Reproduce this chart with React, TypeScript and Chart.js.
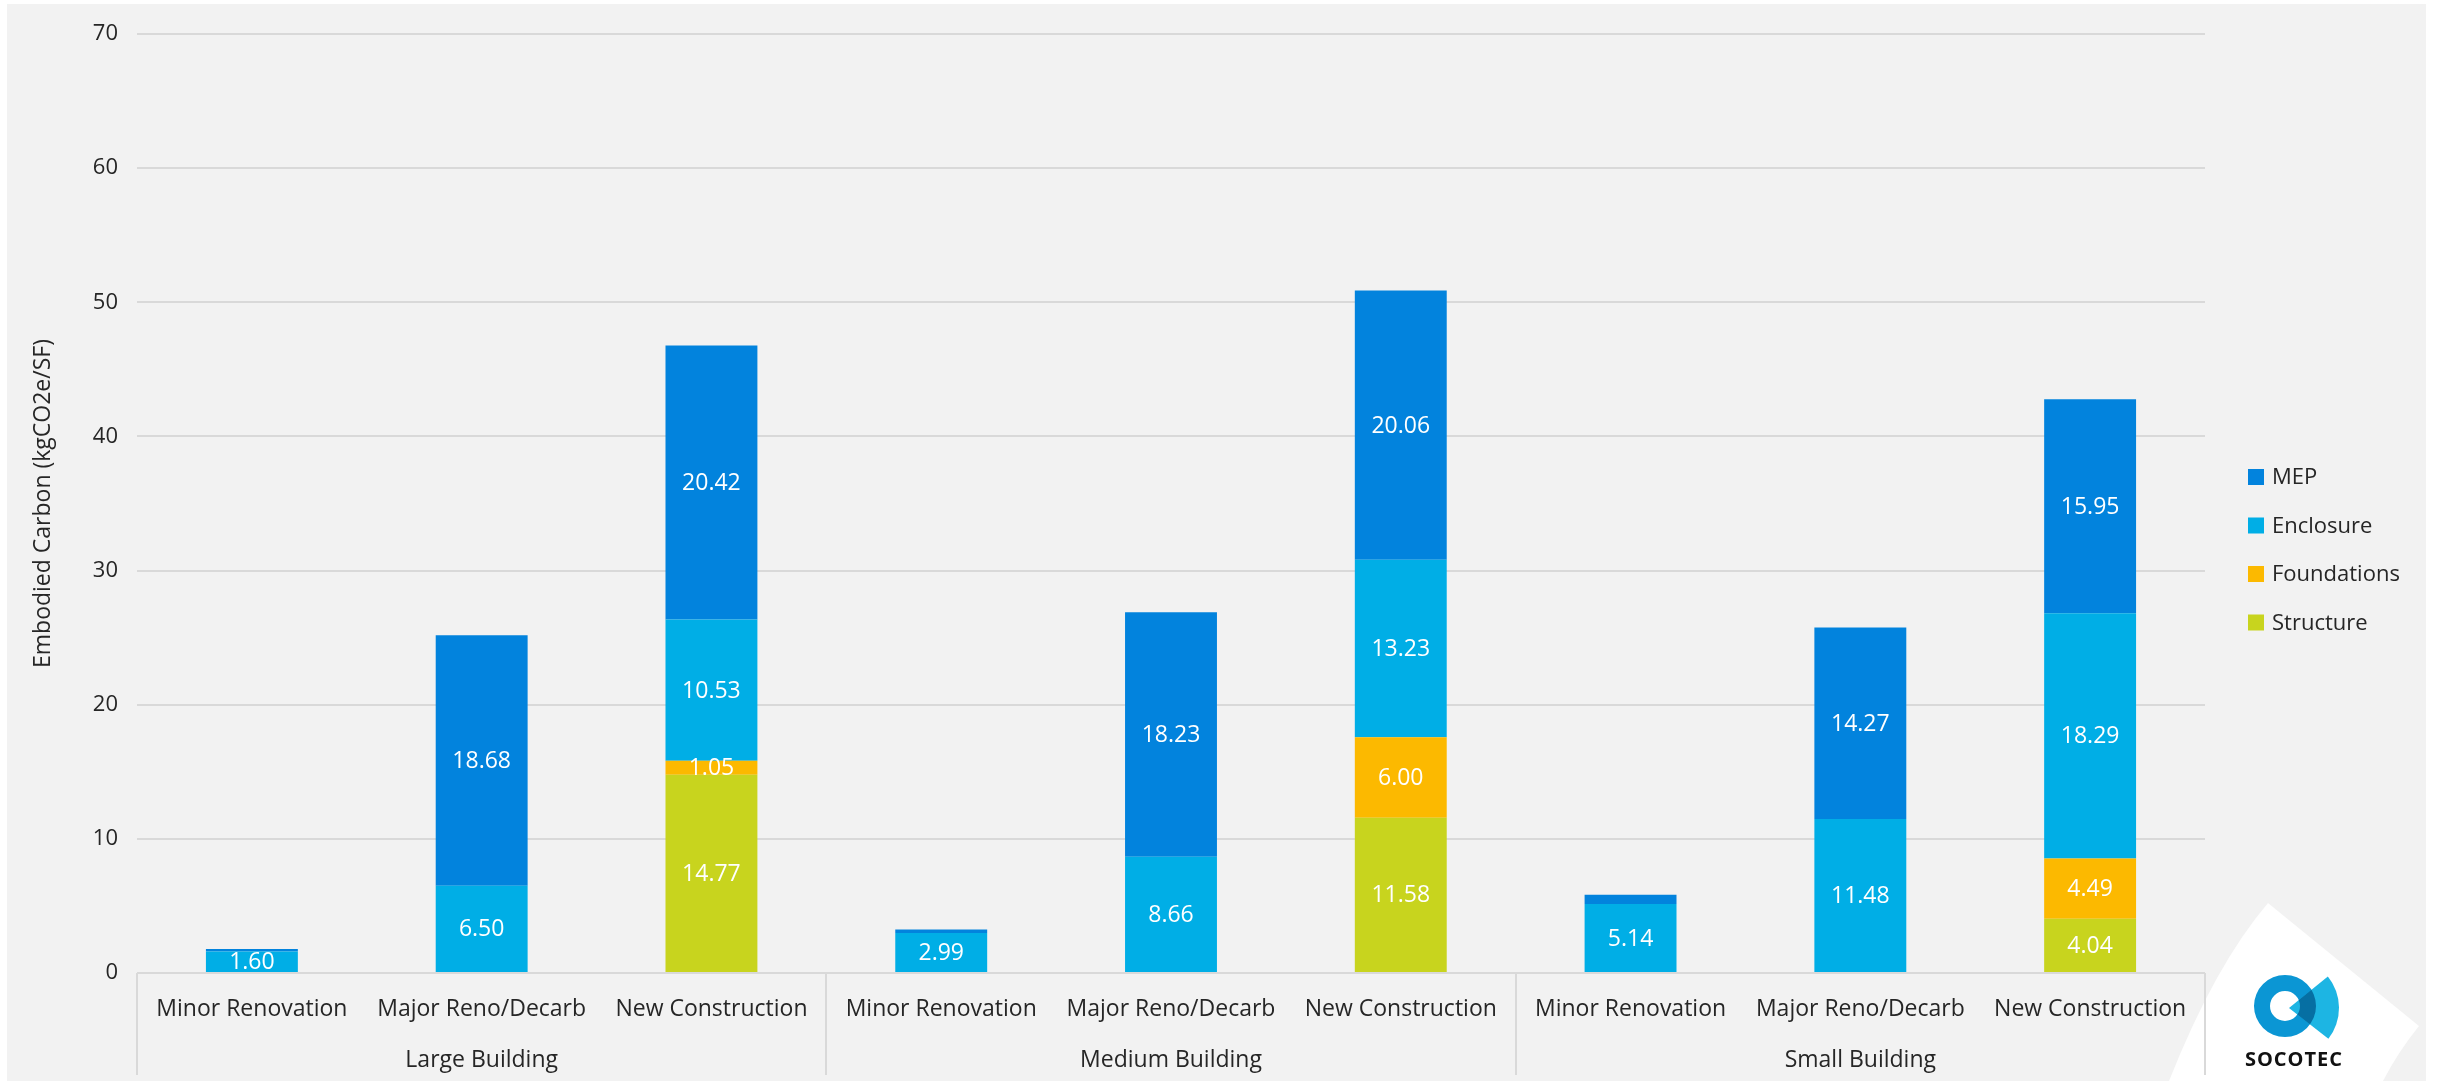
import React, { useEffect, useRef } from "react";
import { Chart, registerables } from "chart.js";

Chart.register(...registerables);

// Building groups and the project types shown for each one
const groups = ["Large Building", "Medium Building", "Small Building"];
const projectTypes = ["Minor Renovation", "Major Reno/Decarb", "New Construction"];
const categories = groups.flatMap(() => projectTypes);

// Embodied carbon per component (kgCO2e/SF), one value per category
const structure = [null, null, 14.77, null, null, 11.58, null, null, 4.04];
const foundations = [null, null, 1.05, null, null, 6.0, null, null, 4.49];
const enclosure = [1.6, 6.5, 10.53, 2.99, 8.66, 13.23, 5.14, 11.48, 18.29];
const mep = [0.18, 18.68, 20.42, 0.26, 18.23, 20.06, 0.7, 14.27, 15.95];

const seriesNames = ["Structure", "Foundations", "Enclosure", "MEP"];
const seriesColors = ["#C8D41E", "#FCB900", "#00AEE6", "#0283DD"];

const yMin = 0;
const yMax = 70;
const yStep = 10;
const yTitle = "Embodied Carbon (kgCO2e/SF)";
const brandName = "SOCOTEC";

const FONT = "'Open Sans', 'Noto Sans', sans-serif";
const TEXT = "#262626";
const LINE = "#d9d9d9";

const backdrop = {
  id: "backdrop",
  beforeDraw(chart: any) {
    const { ctx, width, height } = chart;
    ctx.save();
    ctx.fillStyle = "#ffffff";
    ctx.fillRect(0, 0, width, height);
    ctx.fillStyle = "#f2f2f2";
    ctx.fillRect(7, 4, 2419, height - 4);
    // white shard behind the brand mark
    ctx.fillStyle = "#ffffff";
    ctx.beginPath();
    ctx.moveTo(2268, 903);
    ctx.lineTo(2419, 1026);
    ctx.quadraticCurveTo(2398, 1052, 2383, 1081);
    ctx.lineTo(2169, 1081);
    ctx.quadraticCurveTo(2215, 965, 2268, 903);
    ctx.closePath();
    ctx.fill();
    ctx.restore();
  },
};

const segmentLabels = {
  id: "segmentLabels",
  afterDatasetsDraw(chart: any) {
    const { ctx, chartArea } = chart;
    ctx.save();
    ctx.beginPath();
    ctx.rect(chartArea.left, chartArea.top, chartArea.right - chartArea.left, chartArea.bottom - chartArea.top);
    ctx.clip();
    ctx.fillStyle = "#ffffff";
    ctx.font = `23px ${FONT}`;
    ctx.textAlign = "center";
    ctx.textBaseline = "middle";
    chart.data.datasets.forEach((ds: any, i: number) => {
      const meta = chart.getDatasetMeta(i);
      meta.data.forEach((bar: any, j: number) => {
        const v = ds.data[j];
        if (v == null || v < 1) return;
        const { x, y, base } = bar.getProps(["x", "y", "base"], true);
        ctx.fillText(v.toFixed(2), x, (y + base) / 2 + 1);
      });
    });
    ctx.restore();
  },
};

const axisBoxAndLegend = {
  id: "axisBoxAndLegend",
  afterDraw(chart: any) {
    const { ctx, chartArea } = chart;
    const xs = chart.scales.x;
    const per = projectTypes.length;

    // boxes around the two-level category axis
    const bounds: number[] = [chartArea.left];
    groups.forEach((_, g) => {
      const last = g * per + per - 1;
      if (g === groups.length - 1) bounds.push(chartArea.right);
      else bounds.push((xs.getPixelForValue(last) + xs.getPixelForValue(last + 1)) / 2);
    });
    ctx.save();
    ctx.strokeStyle = LINE;
    ctx.lineWidth = 2;
    bounds.forEach((b) => {
      const px = Math.round(b);
      ctx.beginPath();
      ctx.moveTo(px, chartArea.bottom);
      ctx.lineTo(px, chartArea.bottom + 102);
      ctx.stroke();
    });

    // group names
    ctx.fillStyle = TEXT;
    ctx.font = `23px ${FONT}`;
    ctx.textAlign = "center";
    ctx.textBaseline = "middle";
    groups.forEach((name, g) => {
      const cx = (xs.getPixelForValue(g * per) + xs.getPixelForValue(g * per + per - 1)) / 2;
      ctx.fillText(name, cx, chartArea.bottom + 87);
    });

    // legend, top series first
    ctx.font = `22px ${FONT}`;
    const items = chart.data.datasets
      .map((d: any) => ({ label: d.label, color: d.backgroundColor }))
      .reverse();
    const lx = chartArea.right + 43;
    items.forEach((it: any, k: number) => {
      const cy = 477 + k * 48.5;
      ctx.fillStyle = it.color;
      ctx.fillRect(lx, cy - 8, 16, 16);
      ctx.fillStyle = TEXT;
      ctx.textAlign = "left";
      ctx.fillText(it.label, lx + 24, cy + 1);
    });

    // brand mark
    const cx = 2285;
    const cy = 1006;
    const ax = 2289;
    const ay = 1008;
    const ringPath = () => {
      ctx.beginPath();
      ctx.arc(cx, cy, 31, 0, Math.PI * 2);
      ctx.arc(cx, cy, 15, 0, Math.PI * 2, true);
    };
    const sectorPath = () => {
      ctx.beginPath();
      ctx.moveTo(ax, ay);
      ctx.arc(ax, ay, 50, (-39 * Math.PI) / 180, (38 * Math.PI) / 180);
      ctx.closePath();
    };
    ringPath();
    ctx.fillStyle = "#0B96D4";
    ctx.fill("evenodd");
    sectorPath();
    ctx.fillStyle = "#1DB5E3";
    ctx.fill();
    ctx.save();
    sectorPath();
    ctx.clip();
    ringPath();
    ctx.fillStyle = "#066FA3";
    ctx.fill("evenodd");
    ctx.restore();

    ctx.fillStyle = "#111111";
    ctx.font = `bold 20px ${FONT}`;
    ctx.textAlign = "center";
    ctx.textBaseline = "alphabetic";
    (ctx as any).letterSpacing = "1px";
    ctx.fillText(brandName, 2294, 1066);
    ctx.restore();
  },
};

export default function App() {
  const canvasRef = useRef<HTMLCanvasElement | null>(null);

  useEffect(() => {
    const canvas = canvasRef.current;
    if (!canvas) return;
    const data = [structure, foundations, enclosure, mep];
    const chart = new Chart(canvas, {
      type: "bar",
      data: {
        labels: categories,
        datasets: seriesNames.map((name, i) => ({
          label: name,
          data: data[i],
          backgroundColor: seriesColors[i],
          borderWidth: 0,
          barPercentage: 0.4,
          categoryPercentage: 1,
        })),
      },
      options: {
        animation: false,
        responsive: false,
        maintainAspectRatio: false,
        devicePixelRatio: 1,
        layout: { padding: { left: 0, right: 235, top: 34, bottom: 0 } },
        plugins: {
          legend: { display: false },
          tooltip: { enabled: false },
        },
        scales: {
          x: {
            stacked: true,
            grid: { display: false, drawTicks: false },
            border: { display: false },
            ticks: {
              color: TEXT,
              font: { family: FONT, size: 23 },
              padding: 23,
              maxRotation: 0,
              autoSkip: false,
            },
            afterFit: (s: any) => {
              s.height = 108;
            },
          },
          y: {
            stacked: true,
            min: yMin,
            max: yMax,
            grid: { color: LINE, lineWidth: 2, drawTicks: false },
            border: { display: false },
            ticks: {
              stepSize: yStep,
              color: TEXT,
              font: { family: FONT, size: 22 },
              padding: 19,
            },
            title: {
              display: true,
              text: yTitle,
              color: TEXT,
              font: { family: FONT, size: 23 },
              padding: { top: 30, bottom: 0 },
            },
            afterFit: (s: any) => {
              s.width = 137;
            },
          },
        },
      },
      plugins: [backdrop, segmentLabels, axisBoxAndLegend],
    });
    return () => chart.destroy();
  }, []);

  return (
    <div style={{ position: "fixed", left: 0, top: 0, width: 2440, height: 1081 }}>
      <canvas ref={canvasRef} width={2440} height={1081} style={{ display: "block", width: 2440, height: 1081 }} />
    </div>
  );
}
